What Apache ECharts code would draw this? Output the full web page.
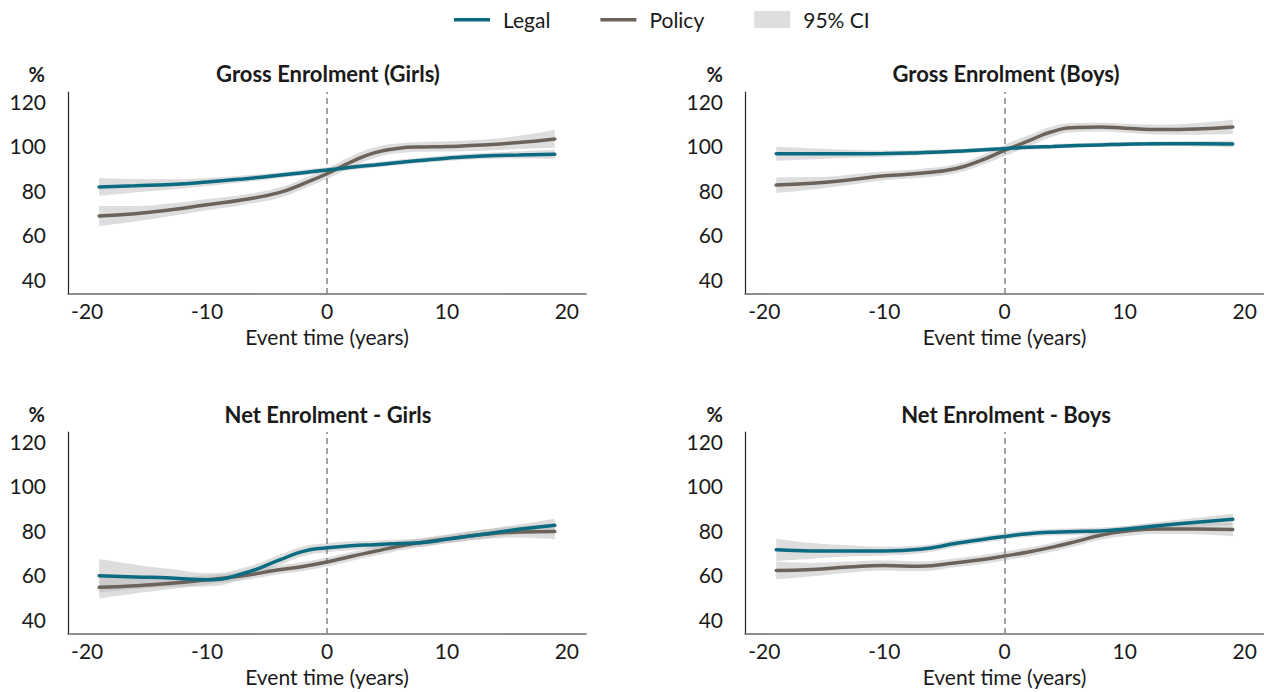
<!DOCTYPE html>
<html>
<head>
<meta charset="utf-8">
<script src="https://cdn.jsdelivr.net/npm/echarts@6/dist/echarts.min.js"></script>
<style>
html,body{margin:0;padding:0;background:#ffffff;}
#chart{width:1264px;height:692px;}
</style>
</head>
<body>
<div id="chart"></div>
<script>
// ---------- data ----------
const eventTime = [-19, -16, -13, -10, -7, -4, -2, 0, 2, 4, 6, 8, 10, 13, 16, 19];
const xTicks = [-20, -10, 0, 10, 20];
const yTicks = [40, 60, 80, 100, 120];
const panelTitles = ['Gross Enrolment (Girls)', 'Gross Enrolment (Boys)', 'Net Enrolment - Girls', 'Net Enrolment - Boys'];
const legendNames = ['Legal', 'Policy', '95% CI'];
const xAxisName = 'Event time (years)';
const yUnit = '%';

// Gross enrolment, girls
const grossGirlsLegal    = [82.6, 83.1, 83.7, 84.8, 86.2, 87.8, 89.0, 90.2, 91.4, 92.5, 93.6, 94.6, 95.5, 96.5, 97.0, 97.3];
const grossGirlsLegalCI  = [4.0, 3.0, 2.3, 1.8, 1.5, 1.3, 1.2, 1.2, 1.2, 1.2, 1.2, 1.2, 1.3, 1.4, 1.6, 2.0];
const grossGirlsPolicy   = [69.5, 70.5, 72.3, 74.6, 76.8, 80.0, 84.0, 88.5, 93.8, 98.0, 100.0, 100.6, 100.8, 101.4, 102.6, 104.2];
const grossGirlsPolicyCI = [4.5, 3.5, 2.8, 2.5, 2.3, 2.3, 2.3, 2.4, 2.5, 2.4, 2.2, 2.2, 2.3, 2.5, 3.0, 4.0];

// Gross enrolment, boys
const grossBoysLegal     = [97.5, 97.5, 97.5, 97.6, 98.0, 98.6, 99.2, 99.8, 100.4, 100.8, 101.2, 101.5, 101.8, 102.0, 102.0, 101.9];
const grossBoysLegalCI   = [3.2, 2.5, 1.8, 1.4, 1.2, 1.0, 1.0, 1.0, 1.0, 1.0, 1.0, 1.0, 1.0, 1.0, 1.2, 1.5];
const grossBoysPolicy    = [83.4, 84.2, 85.7, 87.6, 88.7, 90.9, 94.4, 99.0, 103.3, 107.5, 109.3, 109.5, 109.0, 108.4, 108.7, 109.6];
const grossBoysPolicyCI  = [3.5, 2.8, 2.3, 2.0, 2.0, 2.0, 2.2, 2.5, 2.5, 2.3, 2.0, 2.0, 2.0, 2.2, 2.6, 3.2];

// Net enrolment, girls
const netGirlsLegal      = [60.6, 60.1, 59.6, 58.8, 61.6, 67.6, 71.6, 73.2, 74.1, 74.6, 75.1, 75.6, 77.0, 79.3, 81.5, 83.3];
const netGirlsLegalCI    = [7.5, 5.5, 4.0, 3.0, 2.5, 2.3, 2.2, 2.0, 2.0, 1.8, 1.8, 1.8, 1.8, 2.0, 2.2, 3.0];
const netGirlsPolicy     = [55.4, 56.1, 57.2, 58.8, 60.6, 63.3, 64.8, 66.8, 69.3, 71.6, 73.9, 75.7, 77.2, 79.2, 80.3, 80.5];
const netGirlsPolicyCI   = [5.0, 3.5, 2.6, 2.0, 2.0, 2.0, 2.0, 2.0, 2.0, 2.0, 2.0, 2.0, 2.0, 2.2, 2.6, 3.5];

// Net enrolment, boys
const netBoysLegal       = [72.3, 71.8, 71.8, 71.7, 72.5, 75.2, 76.8, 78.3, 79.5, 80.2, 80.5, 80.8, 81.5, 83.2, 84.7, 86.0];
const netBoysLegalCI     = [5.0, 3.5, 2.5, 2.0, 1.8, 1.6, 1.5, 1.5, 1.5, 1.5, 1.5, 1.5, 1.5, 1.7, 2.0, 2.5];
const netBoysPolicy      = [63.0, 63.4, 64.5, 65.2, 64.9, 66.5, 67.8, 69.5, 71.3, 73.5, 76.1, 78.8, 80.6, 81.7, 81.7, 81.4];
const netBoysPolicyCI    = [4.0, 3.0, 2.5, 2.3, 2.2, 2.0, 2.0, 2.0, 2.0, 2.0, 2.0, 2.0, 2.2, 2.3, 2.5, 3.0];

// ---------- styling / layout ----------
const COLORS = { legal: '#0b6b80', policy: '#6b625a', ci: 'rgba(180,180,180,0.45)', ciLegend: '#dedede', text: '#1a1a1a' };
const FONT = 'Lato, "Open Sans", "DejaVu Sans", sans-serif';
const X_RANGE = [-21.6, 21.6];
const Y_RANGE = [34.4, 125.3];
const GRIDS = [
  { left: 68,  top: 92,  width: 518, height: 202 },
  { left: 745, top: 92,  width: 519, height: 202 },
  { left: 68,  top: 432, width: 518, height: 202 },
  { left: 745, top: 432, width: 519, height: 202 }
];
const TITLE_POS = [ [328, 73.5], [1006, 73.5], [328, 414], [1006, 414] ];
const UNIT_POS  = [ [45, 73.5], [723, 73.5], [45, 414], [723, 414] ];

const panels = [
  { legal: grossGirlsLegal, legalCI: grossGirlsLegalCI, policy: grossGirlsPolicy, policyCI: grossGirlsPolicyCI },
  { legal: grossBoysLegal,  legalCI: grossBoysLegalCI,  policy: grossBoysPolicy,  policyCI: grossBoysPolicyCI },
  { legal: netGirlsLegal,   legalCI: netGirlsLegalCI,   policy: netGirlsPolicy,   policyCI: netGirlsPolicyCI },
  { legal: netBoysLegal,    legalCI: netBoysLegalCI,    policy: netBoysPolicy,    policyCI: netBoysPolicyCI }
];

const SMOOTH = 0.5;
const pairs = (ys) => eventTime.map((x, i) => [x, ys[i]]);
// value-first pairs so that stacking happens on the y dimension
const stackPairs = (ys) => eventTime.map((x, i) => [ys[i], x]);

const series = [];
panels.forEach((p, i) => {
  [['policy', p.policy, p.policyCI], ['legal', p.legal, p.legalCI]].forEach(([key, vals, hw]) => {
    const stackId = 'ci-' + i + '-' + key;
    series.push({
      type: 'line', name: 'ci-base', xAxisIndex: i, yAxisIndex: i, stack: stackId,
      data: stackPairs(vals.map((v, k) => v - hw[k])), encode: { x: 1, y: 0 },
      smooth: SMOOTH, symbol: 'none', silent: true, z: 1,
      lineStyle: { opacity: 0, width: 0 }, itemStyle: { color: COLORS.ciLegend }
    });
    series.push({
      type: 'line', name: legendNames[2], xAxisIndex: i, yAxisIndex: i, stack: stackId,
      data: stackPairs(hw.map(h => 2 * h)), encode: { x: 1, y: 0 },
      smooth: SMOOTH, symbol: 'none', silent: true, z: 1,
      lineStyle: { opacity: 0, width: 0 }, itemStyle: { color: COLORS.ciLegend },
      areaStyle: { color: COLORS.ci, opacity: 1 }
    });
  });
  series.push({
    type: 'line', name: legendNames[1], xAxisIndex: i, yAxisIndex: i,
    data: pairs(p.policy), smooth: SMOOTH, symbol: 'none', silent: true, z: 3,
    itemStyle: { color: COLORS.policy },
    lineStyle: { color: COLORS.policy, width: 3.5, cap: 'round' }
  });
  series.push({
    type: 'line', name: legendNames[0], xAxisIndex: i, yAxisIndex: i,
    data: pairs(p.legal), smooth: SMOOTH, symbol: 'none', silent: true, z: 4,
    itemStyle: { color: COLORS.legal },
    lineStyle: { color: COLORS.legal, width: 3.5, cap: 'round' },
    markLine: {
      silent: true, z: 2, symbol: ['none', 'none'], label: { show: false },
      lineStyle: { type: [6, 4], color: '#8c8c8c', width: 1.6, opacity: 1 },
      emphasis: { disabled: true },
      data: [{ xAxis: 0 }]
    }
  });
});

const LINE_ICON = 'path://M0,0h0.01v0.01h-0.01z M0,7h36v3.4h-36z M0,16.99h0.01v0.01h-0.01z';

const graphics = [];
panelTitles.forEach((t, i) => {
  graphics.push({ type: 'text', x: TITLE_POS[i][0], y: TITLE_POS[i][1], silent: true,
    style: { text: t, align: 'center', verticalAlign: 'middle', textAlign: 'center', textVerticalAlign: 'middle',
      fontFamily: FONT, fontWeight: 'bold', fontSize: 22, fill: COLORS.text } });
  graphics.push({ type: 'text', x: UNIT_POS[i][0], y: UNIT_POS[i][1], silent: true,
    style: { text: yUnit, align: 'right', verticalAlign: 'middle', textAlign: 'right', textVerticalAlign: 'middle',
      fontFamily: FONT, fontWeight: 'bold', fontSize: 20, fill: COLORS.text } });
});

const option = {
  animation: false,
  backgroundColor: '#ffffff',
  textStyle: { fontFamily: FONT },
  legend: {
    left: 454, top: 9, padding: 0, itemGap: 50, itemWidth: 36, itemHeight: 17,
    selectedMode: false,
    textStyle: { fontFamily: FONT, fontSize: 21, color: COLORS.text, padding: [0, 0, 0, 8] },
    data: [
      { name: legendNames[0], icon: LINE_ICON, itemStyle: { color: COLORS.legal } },
      { name: legendNames[1], icon: LINE_ICON, itemStyle: { color: COLORS.policy } },
      { name: legendNames[2], icon: 'rect', itemStyle: { color: COLORS.ciLegend } }
    ]
  },
  graphic: graphics,
  grid: GRIDS.map(g => Object.assign({ containLabel: false }, g)),
  xAxis: GRIDS.map((g, i) => ({
    type: 'value', gridIndex: i, min: X_RANGE[0], max: X_RANGE[1],
    name: xAxisName, nameLocation: 'middle', nameGap: 32,
    nameTextStyle: { fontFamily: FONT, fontSize: 21, color: COLORS.text },
    axisLine: { show: true, onZero: false, lineStyle: { color: '#6a6a6a', width: 1.5 } },
    axisTick: { show: false },
    splitLine: { show: false },
    axisLabel: { customValues: xTicks, margin: 6, fontFamily: FONT, fontSize: 21, color: COLORS.text }
  })),
  yAxis: GRIDS.map((g, i) => ({
    type: 'value', gridIndex: i, min: Y_RANGE[0], max: Y_RANGE[1],
    axisLine: { show: true, onZero: false, lineStyle: { color: '#222222', width: 1.2 } },
    axisTick: { show: false },
    splitLine: { show: false },
    axisLabel: {
      customValues: yTicks, margin: 22, color: COLORS.text,
      formatter: (v) => '{t|' + v + '}',
      rich: { t: { fontFamily: FONT, fontSize: 21, color: COLORS.text, padding: [0, 0, 5, 0] } }
    }
  })),
  series: series
};

const chart = echarts.init(document.getElementById('chart'), null, { renderer: 'svg', width: 1264, height: 692 });
chart.setOption(option);
</script>
</body>
</html>
